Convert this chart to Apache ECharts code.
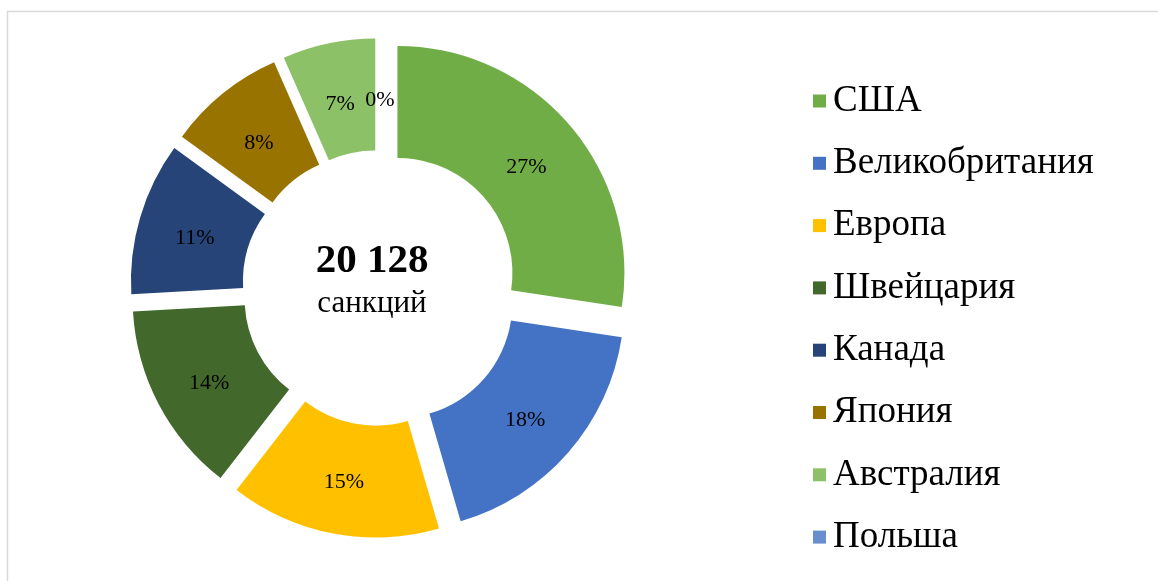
<!DOCTYPE html>
<html>
<head>
<meta charset="utf-8">
<script src="https://cdn.jsdelivr.net/npm/echarts@6/dist/echarts.min.js"></script>
<style>
  html, body { margin: 0; padding: 0; background: #fff; }
  #chart { width: 1158px; height: 581px; }
</style>
</head>
<body>
<div id="chart"></div>
<script>
var countries = ["США", "Великобритания", "Европа", "Швейцария", "Канада", "Япония", "Австралия", "Польша"];
var shares = [27.4, 18.1, 15.0, 13.6, 10.9, 8.4, 6.6, 0];
var colors = ["#70AD47", "#4472C4", "#FFC000", "#43682B", "#264478", "#997300", "#8CC168", "#698ED0"];
var totalText = "20 128";
var totalCaption = "санкций";

var pieCenter = [380, 288];

var chart = echarts.init(document.getElementById("chart"));

var pieData = countries.map(function(name, i) {
    return { name: name, value: shares[i], selected: true, itemStyle: { color: colors[i] } };
});

chart.setOption({
    animation: false,
    graphic: [
        {
            type: 'rect',
            shape: { x: 7.5, y: 11.5, width: 1300, height: 700 },
            style: { fill: 'none', stroke: '#d9d9d9', lineWidth: 1.5 }
        },
        {
            type: 'text',
            x: 372, y: 261,
            style: {
                text: totalText, fill: '#000', align: 'center', verticalAlign: 'middle',
                font: 'bold 41px "Liberation Serif"'
            }
        },
        {
            type: 'text',
            x: 372, y: 304,
            style: {
                text: totalCaption, fill: '#000', align: 'center', verticalAlign: 'middle',
                font: '31px "Liberation Serif"'
            }
        }
    ],
    legend: {
        orient: 'vertical',
        left: 808,
        top: 77.5,
        icon: 'rect',
        itemWidth: 13,
        itemHeight: 13,
        itemGap: 25.3,
        selectedMode: false,
        data: countries,
        textStyle: {
            fontFamily: 'Liberation Serif',
            fontSize: 37,
            color: '#000',
            padding: [0, 0, 0, 2]
        }
    },
    series: [{
        type: 'pie',
        center: pieCenter,
        radius: [115, 227],
        startAngle: 90,
        clockwise: true,
        selectedMode: 'multiple',
        selectedOffset: 23,
        emphasis: { disabled: true },
        label: {
            show: true,
            position: 'inside',
            fontFamily: 'Liberation Serif',
            fontSize: 22,
            color: '#000',
            formatter: function(p) {
                return Math.round(p.percent) + '%';
            }
        },
        // labels sit a little inward and lower than the ring middle
        labelLayout: function(p) {
            var lx = p.labelRect.x + p.labelRect.width / 2 - pieCenter[0];
            var ly = p.labelRect.y + p.labelRect.height / 2 - pieCenter[1];
            var len = Math.sqrt(lx * lx + ly * ly) || 1;
            return { dx: -4 * lx / len, dy: -4 * ly / len + 5 };
        },
        labelLine: { show: false },
        data: pieData
    }]
});
</script>
</body>
</html>
